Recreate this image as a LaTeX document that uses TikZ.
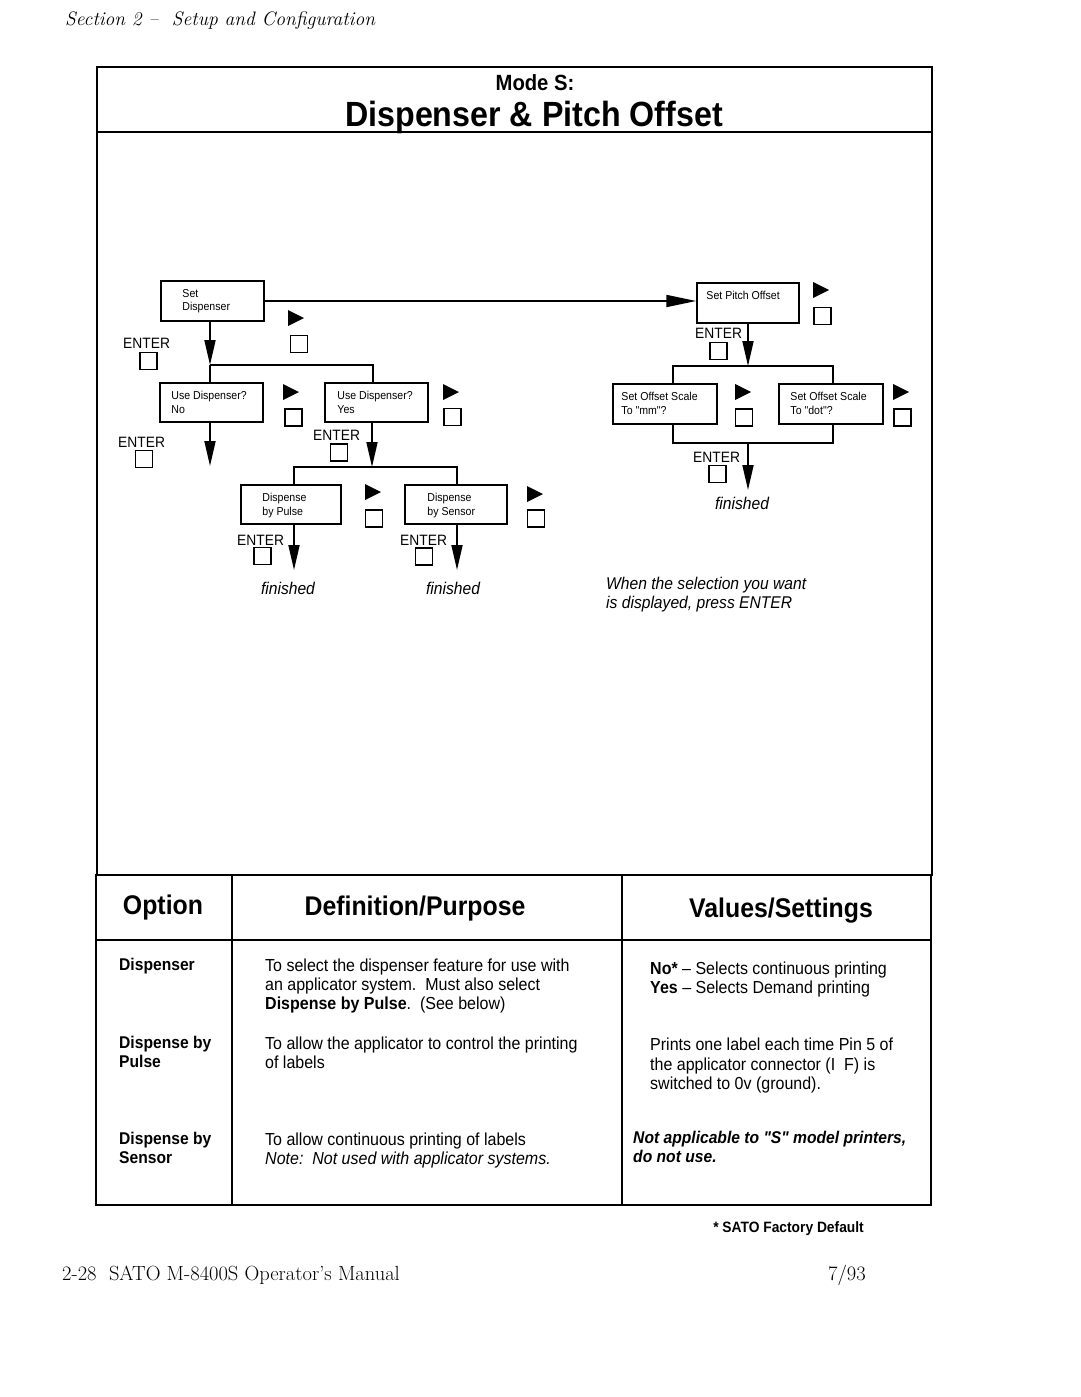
\documentclass[tikz,border=0pt]{standalone}
\usepackage{fontspec}
\newfontfamily\hv[FakeStretch=0.92]{Liberation Sans}
\usetikzlibrary{arrows.meta}
\newcommand\playtri[2]{\fill (#1,#2-8) -- (#1+16,#2) -- (#1,#2+8) -- cycle;}
\begin{document}
\begin{tikzpicture}[x=1pt,y=-1pt,
  box/.style={draw,line width=1.5pt,inner sep=0pt,rectangle},
  btxt/.style={font=\hv\fontsize{11.5}{13.5}\selectfont,align=left,inner sep=0pt,anchor=north west},
  sq/.style={draw,line width=1.4pt,minimum width=17pt,minimum height=17pt,inner sep=0pt},
  conn/.style={line width=1.8pt},
  arr/.style={conn,-{Triangle[length=25pt,width=11pt]}},
  harr/.style={conn,-{Triangle[length=30pt,width=12pt]}},
  enter/.style={font=\hv\fontsize{15}{18}\selectfont,inner sep=0pt,anchor=base west},
  fin/.style={font=\hv\itshape\fontsize{17}{20}\selectfont,inner sep=0pt,anchor=base},
  frame/.style={line width=1.6pt},
  body/.style={font=\hv\fontsize{17.4}{20}\selectfont,inner sep=0pt,anchor=base west},
  opt/.style={font=\hv\bfseries\fontsize{17}{20}\selectfont,inner sep=0pt,anchor=base west},
  head/.style={font=\hv\bfseries\fontsize{27}{30}\selectfont,inner sep=0pt,anchor=base}
]
\useasboundingbox (0,0) rectangle (1080,1397);
\fill[white] (0,0) rectangle (1080,1397);

% page header
\node[font=\itshape\fontsize{19.5}{22}\selectfont,inner sep=0pt,anchor=base west] (sect) at (65,26) {Section 2 -- \ Setup and Configuration};

% upper frame
\draw[frame] (97,67) rectangle (932,875);
\draw[frame] (97,132) -- (932,132);
\node[font=\hv\bfseries\fontsize{22}{24}\selectfont,inner sep=0pt,anchor=base] (modes) at (535,90) {Mode S:};
\node[font=\hv\bfseries\fontsize{35}{38}\selectfont,inner sep=0pt,anchor=base] (title) at (534,126) {Dispenser \& Pitch Offset};

% boxes
\node[box,minimum width=103pt,minimum height=40pt] (sd) at (212.5,301) {};
\node[btxt] (sdt) at ([shift={(22,9)}]sd.north west) {Set\\Dispenser};
\node[box,minimum width=103pt,minimum height=39pt] (no) at (211.5,402.5) {};
\node[btxt] (not) at ([shift={(12,9)}]no.north west) {Use Dispenser?\\No};
\node[box,minimum width=103pt,minimum height=39pt] (yes) at (376.5,402.5) {};
\node[btxt] (yest) at ([shift={(13,9)}]yes.north west) {Use Dispenser?\\Yes};
\node[box,minimum width=100pt,minimum height=39pt] (pul) at (291,504.5) {};
\node[btxt] (pult) at ([shift={(22,9)}]pul.north west) {Dispense\\by Pulse};
\node[box,minimum width=102pt,minimum height=39pt] (sen) at (456,504.5) {};
\node[btxt] (sent) at ([shift={(23,9)}]sen.north west) {Dispense\\by Sensor};
\node[box,minimum width=102pt,minimum height=40pt] (spo) at (748,303) {};
\node[btxt] (spot) at ([shift={(10,9)}]spo.north west) {Set Pitch Offset};
\node[box,minimum width=104pt,minimum height=40pt] (mm) at (665,404) {};
\node[btxt] (mmt) at ([shift={(9,9)}]mm.north west) {Set Offset Scale\\To "mm"?};
\node[box,minimum width=104pt,minimum height=40pt] (dot) at (831,404) {};
\node[btxt] (dott) at ([shift={(12,9)}]dot.north west) {Set Offset Scale\\To "dot"?};

% play triangles
\playtri{288}{318}
\playtri{283}{392}
\playtri{443}{392}
\playtri{365}{492}
\playtri{527}{494}
\playtri{813}{290}
\playtri{735}{392}
\playtri{893}{392}

% squares
\node[sq] (q1) at (299,344) {};
\node[sq] (q2) at (148.5,361) {};
\node[sq] (q3) at (293.5,417.5) {};
\node[sq] (q4) at (452.5,417) {};
\node[sq] (q5) at (144,459) {};
\node[sq] (q6) at (339,452.5) {};
\node[sq] (q7) at (374,518.5) {};
\node[sq] (q8) at (536,518.5) {};
\node[sq] (q9) at (262.5,556) {};
\node[sq] (q10) at (424,556.5) {};
\node[sq] (q11) at (822.5,316) {};
\node[sq] (q12) at (718.5,351) {};
\node[sq] (q13) at (744,417.5) {};
\node[sq] (q14) at (902.5,417.5) {};
\node[sq] (q15) at (717.5,474) {};

% ENTER labels
\node[enter] (e1) at (123,348) {ENTER};
\node[enter] (e2) at (118,447) {ENTER};
\node[enter] (e3) at (313,440) {ENTER};
\node[enter] (e4) at (237,545) {ENTER};
\node[enter] (e5) at (400,545) {ENTER};
\node[enter] (e6) at (695,338) {ENTER};
\node[enter] (e7) at (693,462) {ENTER};

% connectors, left tree
\coordinate (j1) at (210,365);
\coordinate (j1r) at (373,365);
\draw[arr] (sd.south -| j1) -- (j1);
\draw[conn] (j1) -- (j1 |- no.north);
\draw[conn] (j1) -- (j1r) -- (j1r |- yes.north);
\coordinate (noend) at (210,466);
\draw[arr] (no.south -| noend) -- (noend);
\coordinate (j2) at (372,467);
\coordinate (j2l) at (294,467);
\coordinate (j2r) at (457,467);
\draw[arr] (yes.south -| j2) -- (j2);
\draw[conn] (j2l |- pul.north) -- (j2l) -- (j2r) -- (j2r |- sen.north);
\coordinate (pend) at (294,570);
\coordinate (send) at (457,570);
\draw[arr] (pul.south -| pend) -- (pend);
\draw[arr] (sen.south -| send) -- (send);

% connectors, right tree
\draw[harr] (sd.east) -- (sd.east -| spo.west);
\coordinate (j3) at (748,366);
\coordinate (j3l) at (673,366);
\coordinate (j3r) at (833,366);
\draw[arr] (spo.south -| j3) -- (j3);
\draw[conn] (j3l |- mm.north) -- (j3l) -- (j3r) -- (j3r |- dot.north);
\coordinate (k3) at (748,443);
\coordinate (k3l) at (673,443);
\coordinate (k3r) at (833,443);
\draw[conn] (k3l |- mm.south) -- (k3l) -- (k3r) -- (k3r |- dot.south);
\coordinate (rend) at (748,490);
\draw[arr] (k3) -- (rend);

% finished labels
\node[fin] (f1) at (288,594) {finished};
\node[fin] (f2) at (453,594) {finished};
\node[fin] (f3) at (742,509) {finished};
\node[fin,anchor=base west] (w1) at (606,589) {When the selection you want};
\node[fin,anchor=base west] (w2) at (606,608) {is displayed, press ENTER};

% table
\draw[frame] (96,875) rectangle (931,1205);
\draw[frame] (96,940) -- (931,940);
\draw[frame] (232,875) -- (232,1205);
\draw[frame] (622,875) -- (622,1205);
\node[head] (h1) at (163,914) {Option};
\node[head] (h2) at (415,915) {Definition/Purpose};
\node[head] (h3) at (781,917) {Values/Settings};

\node[opt] (o1) at (119,970) {Dispenser};
\node[opt] (o2a) at (119,1048) {Dispense by};
\node[opt] (o2b) at (119,1067) {Pulse};
\node[opt] (o3a) at (119,1144) {Dispense by};
\node[opt] (o3b) at (119,1163) {Sensor};

\node[body] (d1a) at (265,971) {To select the dispenser feature for use with};
\node[body] (d1b) at (265,990) {an applicator system.\ \ Must also select};
\node[body] (d1c) at (265,1009) {\textbf{Dispense by Pulse}.\ \ (See below)};
\node[body] (d2a) at (265,1049) {To allow the applicator to control the printing};
\node[body] (d2b) at (265,1068) {of labels};
\node[body] (d3a) at (265,1145) {To allow continuous printing of labels};
\node[body,font=\hv\itshape\fontsize{17.4}{20}\selectfont] (d3b) at (265,1164) {Note:\ \ Not used with applicator systems.};

\node[body] (v1a) at (650,974) {\textbf{No*} – Selects continuous printing};
\node[body] (v1b) at (650,993) {\textbf{Yes} – Selects Demand printing};
\node[body] (v2a) at (650,1050) {Prints one label each time Pin 5 of};
\node[body] (v2b) at (650,1070) {the applicator connector (I\ \ F) is};
\node[body] (v2c) at (650,1089) {switched to 0v (ground).};
\node[body,font=\hv\bfseries\itshape\fontsize{17}{20}\selectfont] (v3a) at (633,1143) {Not applicable to "S" model printers,};
\node[body,font=\hv\bfseries\itshape\fontsize{17}{20}\selectfont] (v3b) at (633,1162) {do not use.};

\node[font=\hv\bfseries\fontsize{15}{18}\selectfont,inner sep=0pt,anchor=base east] (fd) at (864,1232) {* SATO Factory Default};

% footer
\node[font=\fontsize{20.5}{24}\selectfont,inner sep=0pt,anchor=base west] (foot) at (62,1280) {2-28\ \ SATO M-8400S Operator's Manual};
\node[font=\fontsize{20.5}{24}\selectfont,inner sep=0pt,anchor=base east] (date) at (866,1280) {7/93};
\end{tikzpicture}
\end{document}
